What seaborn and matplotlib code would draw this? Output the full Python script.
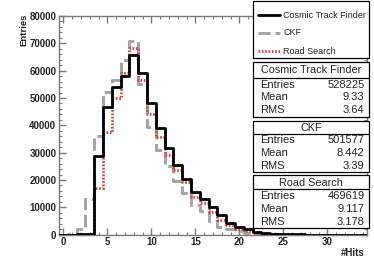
import numpy as np
import pandas as pd
import matplotlib
matplotlib.use("Agg")
import matplotlib.pyplot as plt
import seaborn as sns
from matplotlib.patches import Rectangle
from matplotlib.lines import Line2D
from matplotlib.ticker import MultipleLocator

# ---- data (bin centres 0..34, width 1) ----
hits = list(range(35))
ctf = [0, 0, 100, 300, 28800, 46800, 54000, 58100, 65800, 59000, 48200, 39000, 31800, 25500,
       20300, 15700, 13200, 10000, 7200, 4400, 2900, 2000, 1000, 600, 350, 200, 120, 80, 50,
       30, 20, 10, 5, 0, 0]
ckf = [0, 300, 2100, 13200, 36000, 52200, 56500, 63800, 71000, 55000, 39500, 31000, 25000,
       19500, 15300, 11000, 8500, 5000, 2800, 2000, 1200, 700, 400, 200, 100, 50, 20, 10, 5,
       0, 0, 0, 0, 0, 0]
rs = [0, 0, 0, 0, 17000, 37500, 50000, 59000, 68300, 56700, 44000, 35900, 29300, 23700,
      19300, 13900, 11500, 8400, 5400, 3500, 2000, 1200, 700, 400, 200, 100, 50, 20, 10, 5,
      0, 0, 0, 0, 0]

series_names = ["Cosmic Track Finder", "CKF", "Road Search"]
stats_entries = ["528225", "501577", "469619"]
stats_mean = ["9.33", "8.442", "9.117"]
stats_rms = ["3.64", "3.39", "3.178"]

df = pd.DataFrame({"hits": hits, "ctf": ctf, "ckf": ckf, "rs": rs})

W, H = 374, 269
sns.set_style("white")
plt.rcParams['font.family'] = ['Liberation Sans', 'DejaVu Sans']

fig = plt.figure(figsize=(W / 100, H / 100), dpi=100)
ax = fig.add_axes([59 / W, 1 - 234.7 / H, (367 - 59) / W, (234.7 - 16) / H])

red = "#e0403a"
gray = "#a6a6a6"
common = dict(data=df, x="hits", binwidth=1, binrange=(-0.5, 34.5), element="step",
              fill=False, ax=ax)
sns.histplot(weights="ckf", color=gray, linewidth=2.2, linestyle=(0, (4, 1.6)),
             zorder=2, **common)
sns.histplot(weights="rs", color=red, linewidth=2.0, linestyle=(0, (0.6, 0.6)),
             zorder=3, **common)
sns.histplot(weights="ctf", color="black", linewidth=2.0, zorder=4, **common)

ax.set_xlim(-0.5, 34.5)
ax.set_ylim(0, 80000)
ax.set_xlabel("")
ax.set_ylabel("")
ax.xaxis.set_major_locator(MultipleLocator(5))
ax.xaxis.set_minor_locator(MultipleLocator(1))
ax.yaxis.set_major_locator(MultipleLocator(10000))
ax.yaxis.set_minor_locator(MultipleLocator(2000))
axc = "#7a7a7a"
ax.tick_params(which="both", direction="in", top=True, right=True, color=axc,
               bottom=True, left=True)
ax.tick_params(which="major", length=5, width=1, labelsize=7, pad=2)
ax.tick_params(which="minor", length=2.5, width=0.8)
for lab in ax.get_xticklabels() + ax.get_yticklabels():
    lab.set_fontweight("bold")
for sp in ax.spines.values():
    sp.set_color(axc)
    sp.set_linewidth(1)
    sp.set_visible(True)

fig.text(23.5 / W, 1 - 14 / H, "Entries", rotation=90, ha="center", va="top",
         fontsize=6.8, fontweight="bold")
fig.text(365 / W, 1 - 253.5 / H, "#Hits", ha="right", va="center",
         fontsize=7, fontweight="bold")


def fx(px):
    return px / W


def fy(py):
    return 1 - py / H


def box(x0, y0, x1, y1):
    r = Rectangle((fx(x0), fy(y1)), fx(x1) - fx(x0), fy(y0) - fy(y1),
                  transform=fig.transFigure, facecolor="white", edgecolor="black",
                  linewidth=0.9, zorder=10)
    fig.add_artist(r)


def hline(x0, x1, y, **kw):
    fig.add_artist(Line2D([fx(x0), fx(x1)], [fy(y), fy(y)], transform=fig.transFigure,
                          zorder=11, **kw))


# legend box
BX0, BX1 = 253, 369
box(BX0, 1, BX1, 58)
leg_y = [15, 32.5, 51]
styles = [dict(color="black", linewidth=2.0),
          dict(color=gray, linewidth=2.2, linestyle=(0, (4, 1.6))),
          dict(color=red, linewidth=2.0, linestyle=(0, (0.6, 0.6)))]
for name, y, st in zip(series_names, leg_y, styles):
    hline(258, 280, y, **st)
    fig.text(fx(283), fy(y), name, ha="left", va="center", fontsize=6.5, zorder=12)

# stats boxes
stat_boxes = [(61.7, 77.7, 116.7), (120.7, 133.5, 171.7), (175, 189.3, 228.3)]
for i, (top, tl, bot) in enumerate(stat_boxes):
    box(BX0, top, BX1, bot)
    hline(BX0, BX1, tl, color="black", linewidth=0.9)
    fig.text(fx((BX0 + BX1) / 2), fy((top + tl) / 2 + 0.5), series_names[i],
             ha="center", va="center", fontsize=7.8, zorder=12)
    rows = [("Entries", stats_entries[i]), ("Mean", stats_mean[i]), ("RMS", stats_rms[i])]
    step = (bot - tl) / 3
    for j, (k, v) in enumerate(rows):
        yy = tl + step * (j + 0.5) + 0.3
        fig.text(fx(260.5), fy(yy), k, ha="left", va="center", fontsize=8, zorder=12)
        fig.text(fx(364.5), fy(yy), v, ha="right", va="center", fontsize=8, zorder=12)

fig.savefig("out.png", dpi=100)
